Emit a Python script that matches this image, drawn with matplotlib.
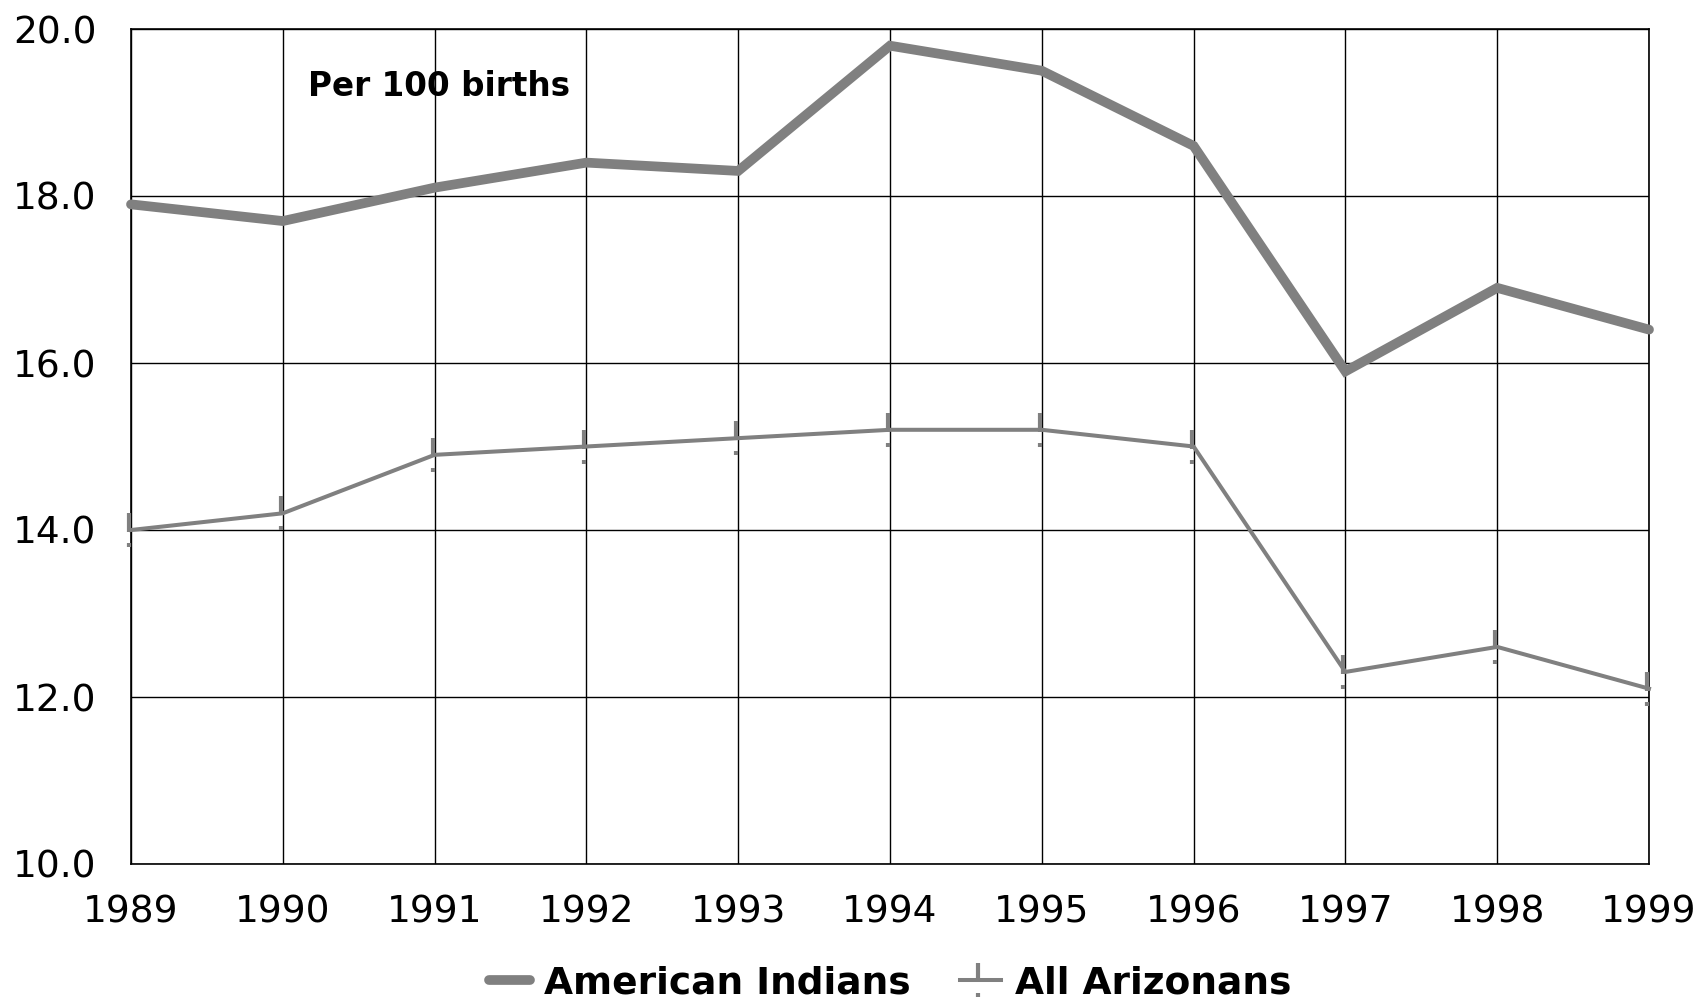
import matplotlib
matplotlib.use("Agg")
import matplotlib.pyplot as plt
from matplotlib.path import Path

years = [1989, 1990, 1991, 1992, 1993, 1994, 1995, 1996, 1997, 1998, 1999]
american_indians = [17.9, 17.7, 18.1, 18.4, 18.3, 19.8, 19.5, 18.6, 15.9, 16.9, 16.4]
all_arizonans = [14.0, 14.2, 14.9, 15.0, 15.1, 15.2, 15.2, 15.0, 12.3, 12.6, 12.1]
y_ticks = [10.0, 12.0, 14.0, 16.0, 18.0, 20.0]
series_names = ["American Indians", "All Arizonans"]
annotation = "Per 100 births"

GRAY = "#808080"

fig = plt.figure(figsize=(17.01, 10.0), dpi=100)
ax = fig.add_axes([131/1701, 1-864/1000, (1649-131)/1701, (864-29)/1000])

# custom marker: vertical stroke above point plus a dot below
verts = [(-1.5, 16.7), (-1.5, -2.0), (-1.5, -12.5), (-1.5, -17.0)]
codes = [Path.MOVETO, Path.LINETO, Path.MOVETO, Path.LINETO]
tick_marker = Path(verts, codes)

ax.plot(years, american_indians, color=GRAY, lw=7.0, solid_capstyle="round",
        solid_joinstyle="miter", label=series_names[0], zorder=3, clip_on=False)
ax.plot(years, all_arizonans, color=GRAY, lw=2.9, marker=tick_marker,
        markersize=24.5, markeredgewidth=3.0, markeredgecolor=GRAY,
        label=series_names[1], zorder=3, clip_on=False)

ax.set_xlim(years[0], years[-1])
ax.set_ylim(y_ticks[0], y_ticks[-1])
ax.set_xticks(years)
ax.set_xticklabels([str(y) for y in years])
ax.set_yticks(y_ticks)
ax.set_yticklabels([f"{v:.1f}" for v in y_ticks])
ax.tick_params(axis="both", length=0, labelsize=27, labelcolor="black")
ax.tick_params(axis="x", pad=22)
ax.tick_params(axis="y", pad=25)
ax.grid(True, color="black", lw=1.0, zorder=1)
for s in ax.spines.values():
    s.set_color("black")
    s.set_linewidth(1.2)

ax.text((308-131)/1518, 1-(87-29)/835, annotation, transform=ax.transAxes,
        fontsize=23.5, fontweight="bold", ha="left", va="center")

fig.legend(loc="center", bbox_to_anchor=(890/1701, 1-983/1000), ncol=2,
           frameon=False, prop={"size": 27, "weight": "bold"},
           handlelength=1.1, handletextpad=0.38, columnspacing=1.3)

fig.savefig("out.png", dpi=100)
